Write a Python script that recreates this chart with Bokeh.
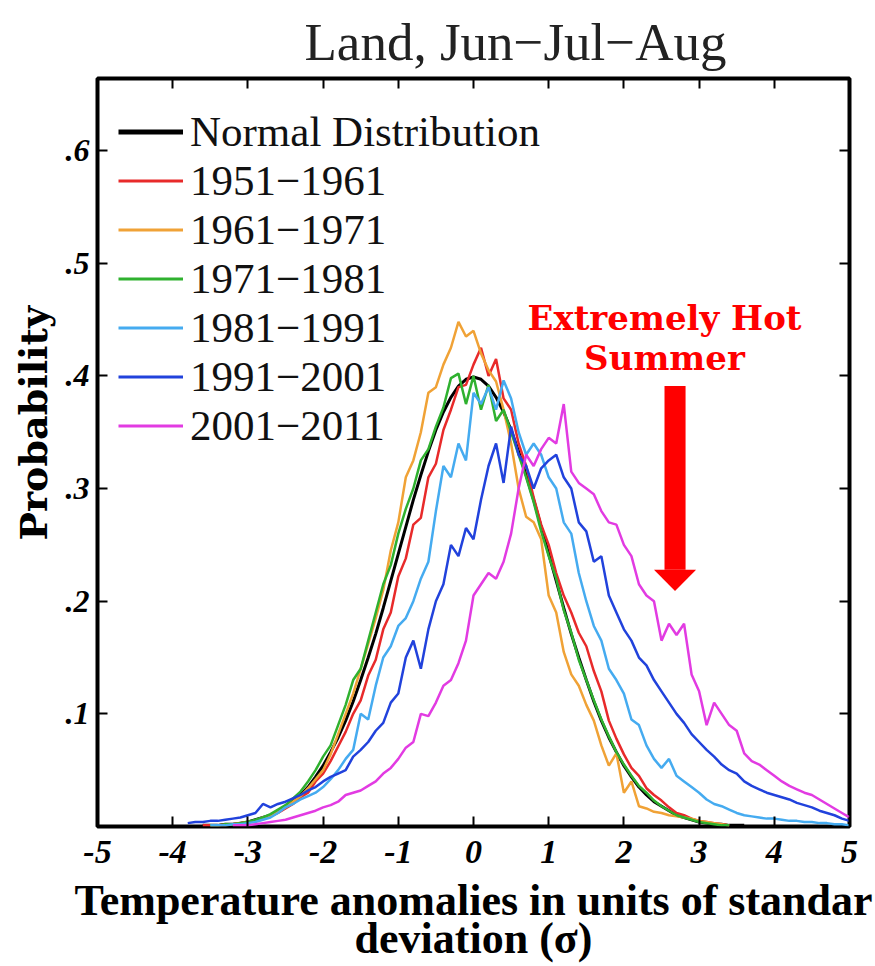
import numpy as np
from bokeh.plotting import figure
from bokeh.models import Range1d, FixedTicker, LinearAxis, Legend, LegendItem, Title
from bokeh.core.properties import value
from bokeh.embed import file_html
from bokeh.resources import INLINE

nan = float("nan")

# ---------------- data ----------------
x_sigma = np.round(np.arange(-4.0, 5.0001, 0.1), 1)   # sampling grid, -4.0 .. 5.0

normal_dist = [
    nan, nan, nan, nan, 0.001, 0.001, 0.001, 0.002, 0.002, 0.003,
    0.004, 0.006, 0.008, 0.010, 0.014, 0.018, 0.022, 0.028, 0.035, 0.044,
    0.054, 0.066, 0.079, 0.094, 0.111, 0.130, 0.150, 0.171, 0.194, 0.218,
    0.242, 0.266, 0.290, 0.312, 0.333, 0.352, 0.368, 0.381, 0.391, 0.397,
    0.399, 0.397, 0.391, 0.381, 0.368, 0.352, 0.333, 0.312, 0.290, 0.266,
    0.242, 0.218, 0.194, 0.171, 0.150, 0.130, 0.111, 0.094, 0.079, 0.066,
    0.054, 0.044, 0.035, 0.028, 0.022, 0.018, 0.014, 0.010, 0.008, 0.006,
    0.004, 0.003, 0.002, 0.002, 0.001, 0.001, 0.001, nan, nan, nan,
    nan, nan, nan, nan, nan, nan, nan, nan, nan, nan, nan,
]
d1951_1961 = [
    nan, nan, nan, nan, 0.001, 0.001, 0.001, 0.002, 0.002, 0.003,
    0.004, 0.005, 0.007, 0.009, 0.012, 0.016, 0.020, 0.026, 0.030, 0.040,
    0.047, 0.058, 0.071, 0.084, 0.100, 0.112, 0.134, 0.148, 0.175, 0.190,
    0.222, 0.238, 0.268, 0.274, 0.310, 0.322, 0.352, 0.370, 0.390, 0.392,
    0.410, 0.425, 0.400, 0.415, 0.380, 0.370, 0.340, 0.320, 0.292, 0.268,
    0.250, 0.225, 0.205, 0.190, 0.172, 0.160, 0.138, 0.120, 0.094, 0.078,
    0.064, 0.052, 0.045, 0.034, 0.028, 0.023, 0.017, 0.012, 0.010, 0.007,
    0.005, 0.004, 0.003, 0.002, 0.001, nan, nan, nan, nan, nan,
    nan, nan, nan, nan, nan, nan, nan, nan, nan, nan, nan,
]
d1961_1971 = [
    nan, nan, nan, nan, nan, 0.001, 0.001, 0.001, 0.002, 0.003,
    0.004, 0.005, 0.008, 0.010, 0.013, 0.017, 0.022, 0.027, 0.034, 0.042,
    0.050, 0.064, 0.082, 0.100, 0.118, 0.140, 0.162, 0.185, 0.210, 0.245,
    0.270, 0.310, 0.325, 0.350, 0.385, 0.390, 0.410, 0.425, 0.448, 0.435,
    0.440, 0.420, 0.405, 0.395, 0.370, 0.340, 0.300, 0.275, 0.270, 0.255,
    0.205, 0.190, 0.155, 0.135, 0.125, 0.108, 0.094, 0.072, 0.054, 0.065,
    0.030, 0.040, 0.018, 0.016, 0.013, 0.012, 0.010, 0.009, 0.008, 0.007,
    0.005, 0.004, 0.003, 0.002, 0.001, nan, nan, nan, nan, nan,
    nan, nan, nan, nan, nan, nan, nan, nan, nan, nan, nan,
]
d1971_1981 = [
    nan, nan, nan, nan, nan, 0.001, 0.001, 0.002, 0.002, 0.003,
    0.004, 0.006, 0.008, 0.011, 0.015, 0.019, 0.025, 0.031, 0.040, 0.050,
    0.062, 0.072, 0.090, 0.108, 0.130, 0.140, 0.165, 0.190, 0.215, 0.232,
    0.260, 0.282, 0.300, 0.325, 0.335, 0.355, 0.372, 0.398, 0.402, 0.375,
    0.400, 0.370, 0.392, 0.360, 0.370, 0.350, 0.330, 0.310, 0.288, 0.262,
    0.240, 0.220, 0.192, 0.172, 0.148, 0.130, 0.112, 0.095, 0.080, 0.066,
    0.055, 0.045, 0.036, 0.030, 0.023, 0.018, 0.014, 0.010, 0.008, 0.006,
    0.004, 0.003, 0.002, 0.001, 0.001, nan, nan, nan, nan, nan,
    nan, nan, nan, nan, nan, nan, nan, nan, nan, nan, nan,
]
d1981_1991 = [
    nan, nan, nan, nan, nan, 0.001, 0.001, 0.001, 0.002, 0.002,
    0.003, 0.004, 0.006, 0.008, 0.012, 0.017, 0.020, 0.024, 0.027, 0.030,
    0.035, 0.042, 0.050, 0.060, 0.068, 0.100, 0.095, 0.125, 0.150, 0.160,
    0.178, 0.185, 0.200, 0.220, 0.235, 0.280, 0.320, 0.310, 0.340, 0.325,
    0.385, 0.375, 0.390, 0.370, 0.396, 0.380, 0.350, 0.330, 0.340, 0.330,
    0.310, 0.300, 0.270, 0.260, 0.225, 0.200, 0.178, 0.165, 0.140, 0.130,
    0.118, 0.095, 0.090, 0.072, 0.060, 0.052, 0.060, 0.045, 0.040, 0.035,
    0.030, 0.024, 0.020, 0.018, 0.015, 0.012, 0.010, 0.009, 0.008, 0.007,
    0.007, 0.006, 0.005, 0.005, 0.004, 0.004, 0.003, 0.003, 0.002, 0.002, 0.001,
]
d1991_2001 = [
    nan, nan, 0.003, 0.004, 0.004, 0.005, 0.005, 0.006, 0.007, 0.008,
    0.010, 0.012, 0.020, 0.017, 0.020, 0.022, 0.025, 0.028, 0.032, 0.035,
    0.040, 0.044, 0.047, 0.050, 0.062, 0.068, 0.075, 0.085, 0.092, 0.110,
    0.118, 0.150, 0.165, 0.140, 0.175, 0.200, 0.215, 0.250, 0.240, 0.265,
    0.255, 0.290, 0.320, 0.340, 0.305, 0.355, 0.330, 0.320, 0.300, 0.318,
    0.325, 0.330, 0.310, 0.300, 0.270, 0.262, 0.235, 0.240, 0.205, 0.190,
    0.175, 0.165, 0.150, 0.143, 0.130, 0.120, 0.110, 0.100, 0.092, 0.082,
    0.075, 0.068, 0.062, 0.055, 0.050, 0.047, 0.040, 0.036, 0.033, 0.030,
    0.028, 0.026, 0.024, 0.021, 0.019, 0.017, 0.014, 0.012, 0.010, 0.007, 0.005,
]
d2001_2011 = [
    nan, nan, nan, nan, nan, nan, nan, nan, 0.001, 0.001,
    0.001, 0.002, 0.003, 0.004, 0.005, 0.006, 0.008, 0.010, 0.012, 0.014,
    0.017, 0.019, 0.022, 0.028, 0.030, 0.032, 0.036, 0.040, 0.047, 0.052,
    0.060, 0.070, 0.075, 0.100, 0.098, 0.110, 0.125, 0.130, 0.145, 0.165,
    0.205, 0.215, 0.225, 0.220, 0.235, 0.260, 0.300, 0.330, 0.320, 0.335,
    0.345, 0.340, 0.375, 0.315, 0.305, 0.300, 0.295, 0.280, 0.270, 0.268,
    0.250, 0.240, 0.215, 0.205, 0.200, 0.165, 0.180, 0.170, 0.180, 0.135,
    0.120, 0.090, 0.110, 0.100, 0.090, 0.085, 0.065, 0.058, 0.055, 0.050,
    0.045, 0.040, 0.036, 0.033, 0.030, 0.028, 0.024, 0.020, 0.016, 0.012, 0.008,
]

series_labels = ["Normal Distribution", "1951\u22121961", "1961\u22121971", "1971\u22121981",
                 "1981\u22121991", "1991\u22122001", "2001\u22122011"]
series_values = [normal_dist, d1951_1961, d1961_1971, d1971_1981, d1981_1991, d1991_2001, d2001_2011]
series_colors = ["#000000", "#e82a2a", "#f0a236", "#2fb12f", "#45abf0", "#2142dc", "#e23be2"]
series_widths = [3, 2.5, 2.5, 2.5, 2.5, 2.5, 2.5]
legend_widths = [5, 3, 3, 3, 3, 3, 3]

x_ticks = [-5, -4, -3, -2, -1, 0, 1, 2, 3, 4, 5]
x_tick_labels = ["-5", "-4", "-3", "-2", "-1", "0", "1", "2", "3", "4", "5"]
y_ticks = [0.1, 0.2, 0.3, 0.4, 0.5, 0.6]
y_tick_labels = [".1", ".2", ".3", ".4", ".5", ".6"]

title_text = "Land, Jun\u2212Jul\u2212Aug"
x_label_lines = ["Temperature anomalies in units of standar", "deviation (\u03c3)"]
y_label = "Probability"

# callout placement in data units
note_lines = ["Extremely Hot", "Summer"]
note_x = 2.54
note_y = [0.451, 0.416]
arrow_x = 2.68
arrow_top = 0.391
arrow_head_base = 0.228
arrow_tip = 0.209
shaft_half = 0.14
head_half = 0.28

# ---------------- figure ----------------
p = figure(width=875, height=966, x_range=Range1d(-5, 5), y_range=Range1d(0, 0.664),
           output_backend="svg", toolbar_location=None,
           min_border_left=97, min_border_right=26, min_border_top=78, min_border_bottom=140)
p.xgrid.visible = False
p.ygrid.visible = False
p.outline_line_color = "black"
p.outline_line_width = 4
p.outline_line_alpha = 1.0
p.background_fill_color = "white"
p.border_fill_color = "white"

def style_axis(ax, size):
    ax.axis_line_color = None
    ax.major_tick_in = 10
    ax.major_tick_out = 0
    ax.major_tick_line_width = 2
    ax.major_tick_line_color = "black"
    ax.minor_tick_line_color = None
    ax.major_label_text_font = "Liberation Serif"
    ax.major_label_text_font_style = "bold italic"
    ax.major_label_text_color = "black"
    ax.major_label_text_font_size = size

xax = p.xaxis[0]
xax.ticker = FixedTicker(ticks=x_ticks)
xax.major_label_overrides = {t: s for t, s in zip(x_ticks, x_tick_labels)}
style_axis(xax, "34px")
xax.major_label_standoff = 14
xax.axis_label = "\n".join(x_label_lines)
xax.axis_label_text_font = "Liberation Serif"
xax.axis_label_text_font_style = "bold"
xax.axis_label_text_font_size = "44px"
xax.axis_label_text_color = "black"
xax.axis_label_text_line_height = 0.78
xax.axis_label_standoff = 10

yax = p.yaxis[0]
yax.ticker = FixedTicker(ticks=y_ticks)
yax.major_label_overrides = {t: s for t, s in zip(y_ticks, y_tick_labels)}
style_axis(yax, "32px")
yax.major_label_standoff = 8

# tick marks only (no labels) on the top and right frame edges
top_ax = LinearAxis(ticker=FixedTicker(ticks=x_ticks))
style_axis(top_ax, "1px")
top_ax.major_label_overrides = {t: "" for t in x_ticks}
top_ax.major_label_standoff = 0
p.add_layout(top_ax, "above")
right_ax = LinearAxis(ticker=FixedTicker(ticks=y_ticks))
style_axis(right_ax, "1px")
right_ax.major_label_overrides = {t: "" for t in y_ticks}
right_ax.major_label_standoff = 0
p.add_layout(right_ax, "right")

# title
p.title.text = title_text
p.title.align = "left"
p.title.offset = 207
p.title.text_font = "Liberation Serif"
p.title.text_font_style = "normal"
p.title.text_font_size = "53px"
p.title.text_color = "#222222"
p.title.standoff = 16

# y label
yl = Title(text=y_label, align="left", offset=286, text_font="DejaVu Serif",
           text_font_style="bold", text_font_size="38px", text_color="black", standoff=14)
p.add_layout(yl, "left")

# series
items = []
for lab, vals, col, w, lw in zip(series_labels, series_values, series_colors, series_widths, legend_widths):
    p.line(x_sigma, np.array(vals, dtype=float), line_color=col, line_width=w)
    dummy = p.line([nan], [nan], line_color=col, line_width=lw)
    items.append(LegendItem(label=lab, renderers=[dummy]))

legend = Legend(items=items, location=(21, 376), orientation="vertical",
                label_text_font="Liberation Serif", label_text_font_size="43px",
                label_text_color="#111111", label_standoff=7,
                glyph_width=65, glyph_height=47, label_height=47, spacing=-1,
                padding=0, margin=0, border_line_color=None, background_fill_alpha=0)
p.add_layout(legend, "center")

# callout
p.text(x=[note_x, note_x], y=note_y, text=note_lines, text_color="#ff0000",
       text_font=value("DejaVu Serif"), text_font_style="bold", text_font_size="34px",
       text_align="center", text_baseline="middle")
p.quad(left=[arrow_x - shaft_half], right=[arrow_x + shaft_half],
       top=[arrow_top], bottom=[arrow_head_base], fill_color="#ff0000", line_color=None)
p.patch([arrow_x - head_half, arrow_x + head_half, arrow_x],
        [arrow_head_base, arrow_head_base, arrow_tip], fill_color="#ff0000", line_color=None)

open("out.html", "w").write(file_html(p, INLINE))
